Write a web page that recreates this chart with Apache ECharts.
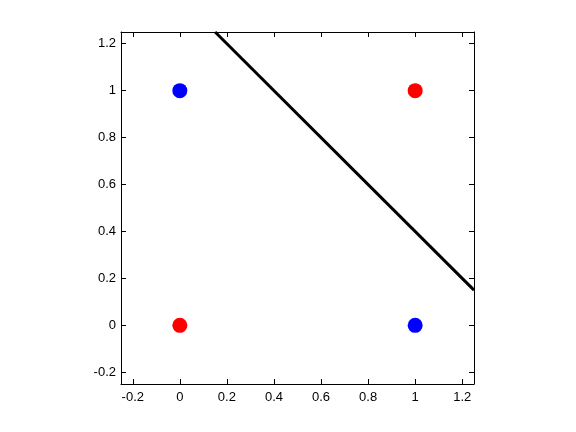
<!DOCTYPE html>
<html>
<head>
<meta charset="utf-8">
<script src="https://cdn.jsdelivr.net/npm/echarts@6/dist/echarts.min.js"></script>
<style>html,body{margin:0;padding:0;background:#fff}#c{width:576px;height:432px}</style>
</head>
<body>
<div id="c"></div>
<script>
var tickValues = [-0.2, 0, 0.2, 0.4, 0.6, 0.8, 1, 1.2];
var redPoints = [[0, 0], [1, 1]];
var bluePoints = [[0, 1], [1, 0]];
var boundaryLine = [[0.15, 1.25], [1.25, 0.15]];
var axisMin = -0.25, axisMax = 1.25;

var font = {fontFamily: 'Liberation Sans', fontSize: 13, color: '#000'};
function mkAxis(type, pos, show) {
  return {
    type: 'value', position: pos, min: axisMin, max: axisMax,
    axisLine: {show: true, onZero: false, lineStyle: {color: '#000', width: 1}},
    axisTick: {show: true, inside: true, length: 5, customValues: tickValues, lineStyle: {color: '#000'}},
    axisLabel: Object.assign({show: show, margin: type === 'x' ? 7 : 5, customValues: tickValues,
      formatter: function (v) { return String(Math.round(v * 10) / 10); }}, font),
    splitLine: {show: false}
  };
}
var chart = echarts.init(document.getElementById('c'), null, {renderer: 'canvas'});
chart.setOption({
  animation: false,
  backgroundColor: '#fff',
  grid: {left: 121, top: 32, width: 353, height: 352, containLabel: false},
  xAxis: [mkAxis('x', 'bottom', true), mkAxis('x', 'top', false)],
  yAxis: [mkAxis('y', 'left', true), mkAxis('y', 'right', false)],
  series: [
    {type: 'line', data: boundaryLine, showSymbol: false, symbol: 'none',
     lineStyle: {color: '#000', width: 3}, z: 3},
    {type: 'scatter', data: redPoints, symbol: 'circle', symbolSize: 15,
     itemStyle: {color: '#ff0000', opacity: 1}, z: 4},
    {type: 'scatter', data: bluePoints, symbol: 'circle', symbolSize: 15,
     itemStyle: {color: '#0000ff', opacity: 1}, z: 4}
  ]
});
</script>
</body>
</html>
